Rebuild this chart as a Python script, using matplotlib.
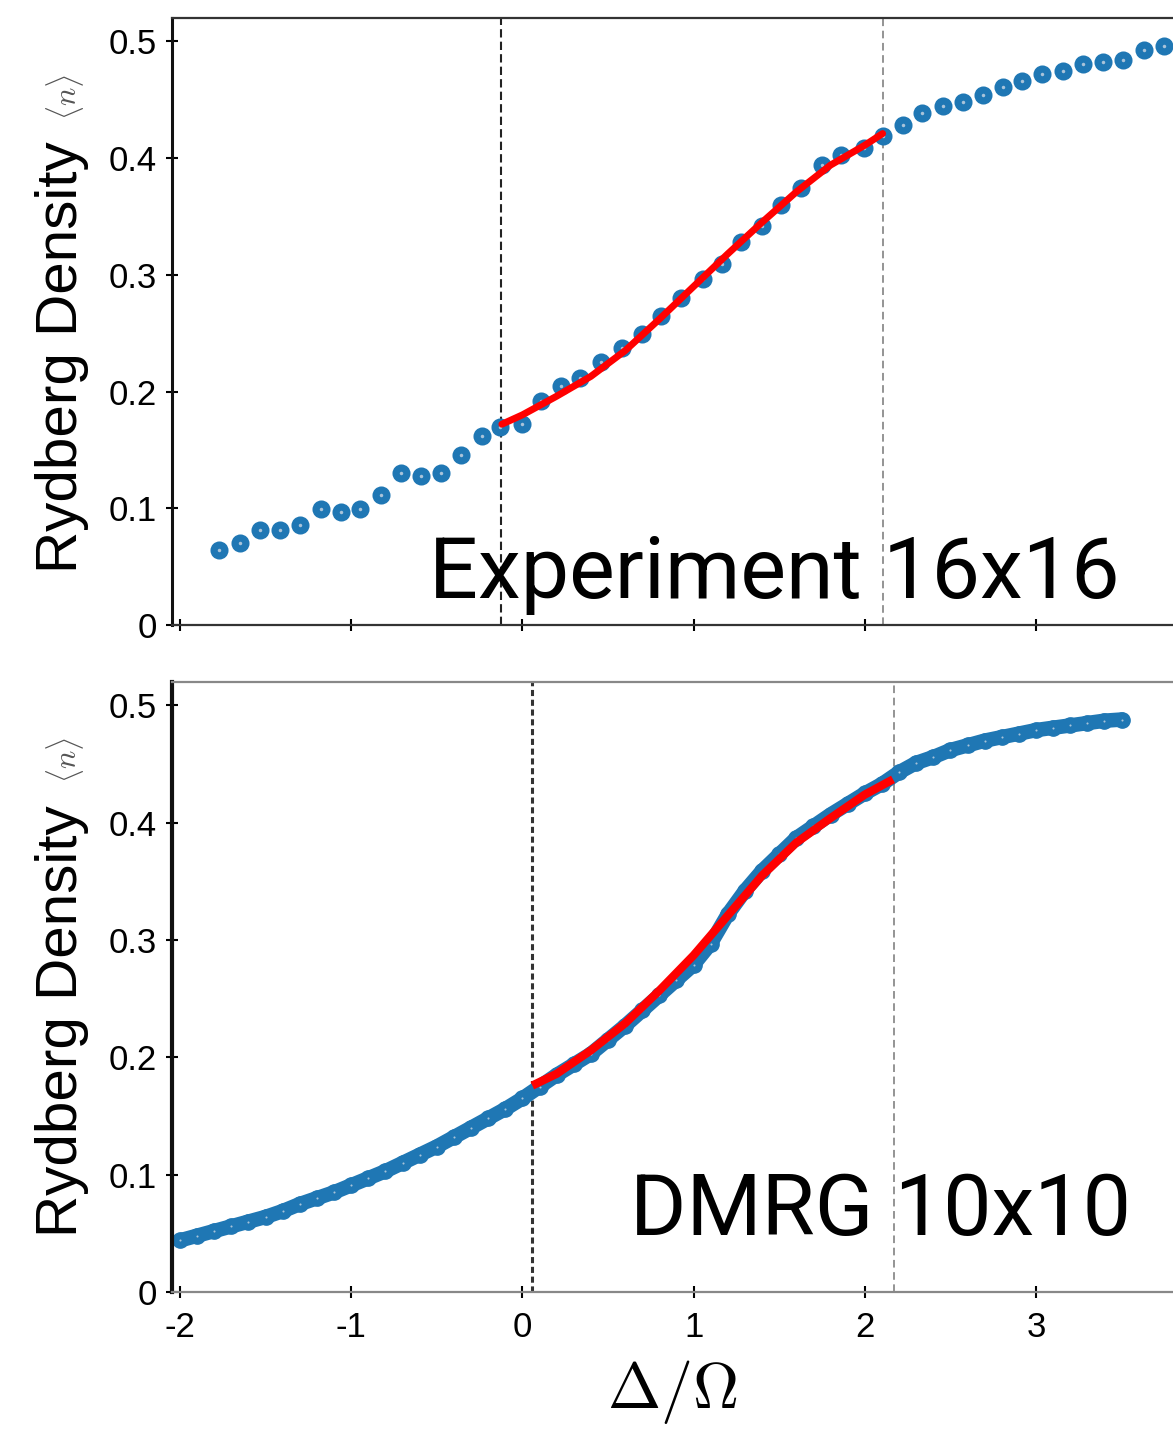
import numpy as np
import matplotlib
matplotlib.use("Agg")
import matplotlib.pyplot as plt

plt.rcParams["mathtext.fontset"] = "cm"

# experiment 16x16 (top panel)
exp_x = [-1.773, -1.650, -1.532, -1.413, -1.297, -1.178, -1.062, -0.946, -0.827, -0.711,
         -0.595, -0.476, -0.357, -0.238, -0.128, -0.004, 0.109, 0.225, 0.336, 0.460,
         0.580, 0.699, 0.812, 0.929, 1.054, 1.165, 1.275, 1.397, 1.508, 1.629,
         1.750, 1.861, 1.994, 2.104, 2.225, 2.336, 2.457, 2.572, 2.689, 2.806,
         2.921, 3.036, 3.160, 3.274, 3.391, 3.506, 3.628, 3.750]
exp_n = [0.064, 0.070, 0.081, 0.081, 0.086, 0.099, 0.097, 0.099, 0.111, 0.130,
         0.128, 0.130, 0.146, 0.162, 0.170, 0.172, 0.192, 0.205, 0.212, 0.225,
         0.237, 0.249, 0.265, 0.280, 0.296, 0.309, 0.328, 0.342, 0.360, 0.374,
         0.394, 0.403, 0.409, 0.419, 0.428, 0.439, 0.445, 0.448, 0.454, 0.461,
         0.466, 0.472, 0.475, 0.481, 0.482, 0.484, 0.493, 0.496]
exp_fit_x = [-0.12, 0.0, 0.2, 0.4, 0.6, 0.8, 1.0, 1.2, 1.4, 1.6, 1.8, 2.0, 2.104]
exp_fit_n = [0.172, 0.180, 0.196, 0.213, 0.235, 0.262, 0.290, 0.318, 0.345, 0.371, 0.394, 0.411, 0.421]
exp_lines = [-0.123, 2.104]

# DMRG 10x10 (bottom panel)
dmrg_x = [-2.0, -1.9, -1.8, -1.7, -1.6, -1.5, -1.4, -1.3, -1.2, -1.1,
          -1.0, -0.9, -0.8, -0.7, -0.6, -0.5, -0.4, -0.3, -0.2, -0.1,
          0.0, 0.1, 0.2, 0.3, 0.4, 0.5, 0.6, 0.7, 0.8, 0.9,
          1.0, 1.1, 1.2, 1.3, 1.4, 1.5, 1.6, 1.7, 1.8, 1.9,
          2.0, 2.1, 2.2, 2.3, 2.4, 2.5, 2.6, 2.7, 2.8, 2.9,
          3.0, 3.1, 3.2, 3.3, 3.4, 3.5]
dmrg_n = [0.044, 0.048, 0.052, 0.056, 0.060, 0.064, 0.069, 0.075, 0.080, 0.085,
          0.091, 0.097, 0.103, 0.110, 0.117, 0.124, 0.132, 0.140, 0.148, 0.156,
          0.165, 0.175, 0.185, 0.194, 0.203, 0.215, 0.227, 0.240, 0.253, 0.266,
          0.279, 0.297, 0.322, 0.342, 0.359, 0.373, 0.387, 0.397, 0.407, 0.416,
          0.425, 0.433, 0.443, 0.451, 0.456, 0.462, 0.466, 0.470, 0.473, 0.476,
          0.479, 0.481, 0.483, 0.485, 0.487, 0.488]
dmrg_fit_x = [0.058, 0.2, 0.4, 0.6, 0.8, 1.0, 1.2, 1.4, 1.6, 1.8, 2.0, 2.165]
dmrg_fit_n = [0.176, 0.186, 0.206, 0.229, 0.257, 0.287, 0.321, 0.355, 0.383, 0.404, 0.424, 0.437]
dmrg_lines = [0.055, 2.17]

yticks = [0, 0.1, 0.2, 0.3, 0.4, 0.5]
ytick_labels = ["0", "0.1", "0.2", "0.3", "0.4", "0.5"]
xticks = [-2, -1, 0, 1, 2, 3]
xtick_labels = ["-2", "-1", "0", "1", "2", "3"]

blue = "#1f77b4"
W, H = 1173, 1430
fig = plt.figure(figsize=(W / 100, H / 100), dpi=100)

x0, x1 = -2 - 8 / 171.2, -2 + 993 / 171.2
left = 172 / W
width = 1 - left

def setup(ax, spine_col, left_w, labels):
    ax.set_xlim(x0, x1)
    ax.set_ylim(0, 0.52)
    ax.set_yticks(yticks)
    ax.set_yticklabels(ytick_labels, family="Liberation Sans", fontsize=25)
    ax.set_xticks(xticks)
    if labels:
        ax.set_xticklabels(xtick_labels, family="Liberation Sans", fontsize=25)
    else:
        ax.set_xticklabels([])
    ax.tick_params(direction="inout", length=9, width=1.5, pad=6.5)
    ax.tick_params(axis="x", pad=9)
    ax.spines["right"].set_visible(False)
    ax.spines["left"].set_linewidth(left_w)
    ax.spines["left"].set_color("#111111")
    for s in ["top", "bottom"]:
        ax.spines[s].set_color(spine_col)
        ax.spines[s].set_linewidth(1.6)

# top panel
ax1 = fig.add_axes([left, 1 - 625 / H, width, 607 / H])
setup(ax1, "#333333", 2.2, False)
ax1.axvline(exp_lines[0], color="#222222", lw=1.5, ls=(0, (4, 2)), zorder=1)
ax1.axvline(exp_lines[1], color="#777777", lw=1.1, ls=(0, (5, 3)), zorder=1)
ax1.plot(exp_x, exp_n, "o", ms=10.5, mfc=blue, mec=blue, mew=2.5, zorder=2)
ax1.plot(exp_x, exp_n, "o", ms=2.5, mfc="#a9c3d9", mec="none", zorder=3)
ax1.plot(exp_fit_x, exp_fit_n, "-", color="red", lw=5, solid_capstyle="round", zorder=4)
ax1.text(3.49, 0.023, "Experiment 16x16", ha="right", va="baseline",
         family=["Roboto", "DejaVu Sans"], fontsize=62, zorder=5)

# bottom panel
ax2 = fig.add_axes([left, 1 - 1292 / H, width, 610 / H])
setup(ax2, "#888888", 3, True)
ax2.axvline(dmrg_lines[0], color="#333333", lw=2.2, ls=(0, (2, 1.2)), zorder=1)
ax2.axvline(dmrg_lines[1], color="#777777", lw=1.1, ls=(0, (5, 3)), zorder=1)
ax2.plot(dmrg_x, dmrg_n, "-o", color=blue, lw=10.5, ms=11, mfc=blue, mec=blue, mew=1,
         solid_capstyle="round", solid_joinstyle="round", zorder=2)
ax2.plot(dmrg_x, dmrg_n, "o", ms=1.5, mfc="#a9c3d9", mec="none", zorder=3)
ax2.plot(dmrg_fit_x, dmrg_fit_n, "-", color="red", lw=6, solid_capstyle="butt", zorder=4)
ax2.text(3.555, 0.0486, "DMRG 10x10", ha="right", va="baseline",
         family=["Roboto", "DejaVu Sans"], fontsize=62, zorder=5)
ax2.set_xlabel(r"$\Delta/\Omega$", fontsize=46, labelpad=10)

# y labels with small <n>
for yc, ync in [(357, 97), (1021, 760)]:
    fig.text(62 / W, 1 - yc / H, "Rydberg Density", rotation=90, ha="center", va="center",
             family="Liberation Sans", fontsize=42)
    fig.text(65 / W, 1 - ync / H, r"$\langle n \rangle$", rotation=90, ha="center", va="center",
             fontsize=22, color="#555555")

fig.savefig("out.png", dpi=100)
